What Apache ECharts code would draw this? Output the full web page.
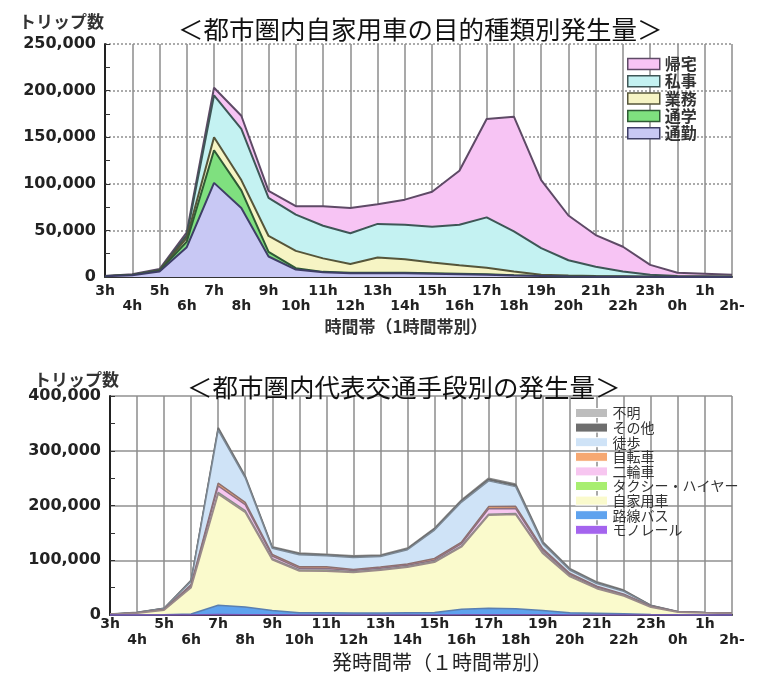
<!DOCTYPE html>
<html>
<head>
<meta charset="utf-8">
<script src="https://cdn.jsdelivr.net/npm/echarts@6/dist/echarts.min.js"></script>
<style>
html, body { margin: 0; padding: 0; background: #fff; }
#chart { width: 773px; height: 673px; }
</style>
</head>
<body>
<div id="chart"></div>
<script>
// Hour bands (one-hour slots, 3 a.m. through 2 a.m. next day)
const hours = ['3h','4h','5h','6h','7h','8h','9h','10h','11h','12h','13h','14h','15h','16h',
  '17h','18h','19h','20h','21h','22h','23h','0h','1h','2h-'];

// Private-car trips by purpose (trips per hour)
const commute  = [800,2000,6000,32000,101000,74000,22000,8000,5000,4000,4000,4000,3500,3000,2500,1500,1000,500,400,300,200,100,100,100];
const school   = [0,0,500,6000,35000,19000,5000,1500,500,500,500,500,500,500,500,500,200,100,100,0,0,0,0,0];
const business = [100,200,500,4000,14000,11000,17000,18500,14500,9500,16500,14500,11500,9000,7000,4000,1300,900,500,400,200,100,100,100];
const privateTrips = [100,300,500,3000,45000,55000,41000,39000,35000,33000,36000,37000,38500,43500,54000,43000,28500,16500,10000,5300,2100,800,600,400];
const homeward = [200,500,1000,3000,8000,14000,7500,9000,21000,27000,21000,27000,37500,58000,105500,123000,73000,48000,34000,26500,10500,3500,2700,1900];

// Trips by main transport mode (trips per hour)
const monorail = [0,0,0,200,800,600,300,200,200,200,200,200,200,300,500,500,300,200,100,100,0,0,0,0];
const bus      = [0,100,300,1500,17000,14000,8000,4000,3800,3500,3500,4000,4500,10000,12000,11000,8000,4000,3000,2000,1000,300,100,100];
const car      = [1200,3000,8500,48000,203000,173000,92500,76000,76000,74000,78000,83000,91500,114000,169500,172000,104000,66000,45000,32500,13000,4500,3500,2500];
const taxi     = [0,0,100,1000,3000,3000,2000,2000,2000,1500,1500,1500,1500,2000,2000,2000,2000,1500,1000,1000,500,300,200,200];
const moto     = [0,200,500,3000,12000,11000,5000,3000,3000,2000,2000,2000,2500,4000,10000,9000,4000,2500,2000,1500,1000,300,200,200];
const bicycle  = [0,200,500,2000,5000,4000,3000,3000,3000,2000,2500,2500,3000,3000,4000,4000,3000,2000,1500,1000,500,200,100,100];
const walk     = [300,1000,2000,6000,97000,45000,11000,22000,20000,22000,19000,26000,52000,73000,47000,36000,9000,6000,5000,5000,1000,300,200,200];
const other    = [100,200,300,1000,3000,2000,1500,1500,1500,1500,1500,1500,2000,2500,3000,3000,2000,1500,1500,1500,500,200,200,200];
const unknown  = [100,200,200,1000,2000,1500,1500,1500,1500,1500,1500,1500,1500,1500,2000,2000,2000,1500,1500,1000,500,200,200,200];

const CJK = '"Noto Sans CJK JP", "Noto Sans", sans-serif';
const NUM = '"DejaVu Sans", sans-serif';

// stacking order: bottom layer first
const purposeLayers = [
  { name: '通勤', data: commute,      fill: '#c8c8f4', line: '#3e3e66' },
  { name: '通学', data: school,       fill: '#7fe07f', line: '#2f5a35' },
  { name: '業務', data: business,     fill: '#f6f4c4', line: '#55553a' },
  { name: '私事', data: privateTrips, fill: '#c4f2f2', line: '#3e5656' },
  { name: '帰宅', data: homeward,     fill: '#f7c4f4', line: '#5e4a66' }
];
const modeLayers = [
  { name: 'モノレール',         data: monorail, fill: '#a464ee', line: '#7a50b0' },
  { name: '路線バス',           data: bus,      fill: '#5ea2ee', line: '#5a7fb0' },
  { name: '自家用車',           data: car,      fill: '#fafacc', line: '#9a8a8a' },
  { name: 'タクシー・ハイヤー', data: taxi,     fill: '#a8ee70', line: '#8a8a8a' },
  { name: '二輪車',             data: moto,     fill: '#f7c6f0', line: '#8c7080' },
  { name: '自転車',             data: bicycle,  fill: '#f6a872', line: '#8c7070' },
  { name: '徒歩',               data: walk,     fill: '#cfe3f7', line: '#7c8894' },
  { name: 'その他',             data: other,    fill: '#6e6e6e', line: '#6a6a6a' },
  { name: '不明',               data: unknown,  fill: '#bdbdbd', line: '#8a8a8a' }
];

const fmtThousands = v => String(v).replace(/\B(?=(\d{3})+(?!\d))/g, ',');
const twoRowLabel = (v, i) => (i % 2 ? '\n' + v : v);

function xAxisFor(gridIndex, labelMargin, lineHeight, name, nameGap, nameStyle) {
  return {
    type: 'category', gridIndex, data: hours, boundaryGap: false,
    axisLine: { lineStyle: { color: '#333', width: 2 } },
    axisTick: { show: false },
    axisLabel: {
      interval: 0, formatter: twoRowLabel, margin: labelMargin, lineHeight,
      fontFamily: NUM, fontWeight: 'bold', fontSize: 14, color: '#222'
    },
    splitLine: { show: true, interval: 0, lineStyle: { color: '#8c8c8c', width: 1.5 } },
    name, nameLocation: 'middle', nameGap, nameMoveOverlap: false, nameTextStyle: nameStyle
  };
}
function yAxisFor(gridIndex, max, interval, splitType) {
  return {
    type: 'value', gridIndex, min: 0, max, interval,
    axisLine: { show: true, lineStyle: { color: '#222', width: 2 } },
    axisTick: { show: true, inside: true, length: 5, lineStyle: { color: '#333' } },
    minorTick: { show: true, splitNumber: 2, length: 5, lineStyle: { color: '#333' } },
    axisLabel: { formatter: fmtThousands, fontFamily: NUM, fontWeight: 'bold', fontSize: 16, color: '#222', margin: 9 },
    splitLine: { show: true, lineStyle: { color: '#909090', width: 1.5, type: splitType } }
  };
}
function stackSeries(layers, axisIndex, stack, lineWidth) {
  return layers.map((l, i) => ({
    name: l.name, type: 'line', stack, xAxisIndex: axisIndex, yAxisIndex: axisIndex,
    symbol: 'none', z: 20 - i, data: l.data,
    itemStyle: { color: l.fill },
    lineStyle: { color: l.line, width: lineWidth },
    areaStyle: { color: l.fill, opacity: 1 }
  }));
}

const chart = echarts.init(document.getElementById('chart'), null, { renderer: 'canvas' });
chart.setOption({
  animation: false,
  backgroundColor: '#fff',
  title: [
    { text: '＜都市圏内自家用車の目的種類別発生量＞', left: 173, top: 10,
      textStyle: { fontFamily: CJK, fontSize: 25.5, fontWeight: 'normal', color: '#111', lineHeight: 28 } },
    { text: 'トリップ数', left: 14, top: 7,
      textStyle: { fontFamily: CJK, fontSize: 17, fontWeight: 'bold', color: '#333', lineHeight: 20 } },
    { text: '＜都市圏内代表交通手段別の発生量＞', left: 182, top: 368,
      textStyle: { fontFamily: CJK, fontSize: 25.5, fontWeight: 'normal', color: '#111', lineHeight: 28 } },
    { text: 'トリップ数', left: 29, top: 365,
      textStyle: { fontFamily: CJK, fontSize: 17, fontWeight: 'bold', color: '#333', lineHeight: 20 } }
  ],
  legend: [
    {
      orient: 'vertical', left: 622, top: 51, itemWidth: 32, itemHeight: 11, itemGap: 1.3,
      icon: 'rect', selectedMode: false,
      textStyle: { fontFamily: CJK, fontSize: 16, fontWeight: 'bold', color: '#333' },
      data: purposeLayers.slice().reverse().map(l => ({
        name: l.name, itemStyle: { color: l.fill, borderColor: l.line, borderWidth: 1.5 }
      }))
    },
    {
      orient: 'vertical', left: 570, top: 401, itemWidth: 32, itemHeight: 9, itemGap: 0.6,
      icon: 'rect', selectedMode: false,
      textStyle: { fontFamily: CJK, fontSize: 14, color: '#333' },
      data: modeLayers.slice().reverse().map(l => ({
        name: l.name, itemStyle: { color: l.fill, borderColor: '#ffffff', borderWidth: 1 }
      }))
    }
  ],
  grid: [
    { left: 105, right: 41, top: 44, height: 233, outerBoundsMode: 'none' },
    { left: 110, right: 41, top: 396, height: 219, outerBoundsMode: 'none' }
  ],
  xAxis: [
    xAxisFor(0, 7, 15, '時間帯（1時間帯別）', 41,
      { fontFamily: CJK, fontSize: 17, fontWeight: 'bold', color: '#333', padding: [0, 25, 0, 0] }),
    xAxisFor(1, 1, 16, '発時間帯（１時間帯別）', 37,
      { fontFamily: CJK, fontSize: 20, fontWeight: 'normal', color: '#222', padding: [0, 0, 0, 42] })
  ],
  yAxis: [
    yAxisFor(0, 250000, 50000, [2, 2]),
    yAxisFor(1, 400000, 100000, 'solid')
  ],
  series: [
    ...stackSeries(purposeLayers, 0, 'purpose', 2),
    ...stackSeries(modeLayers, 1, 'mode', 1.5)
  ]
});
</script>
</body>
</html>
